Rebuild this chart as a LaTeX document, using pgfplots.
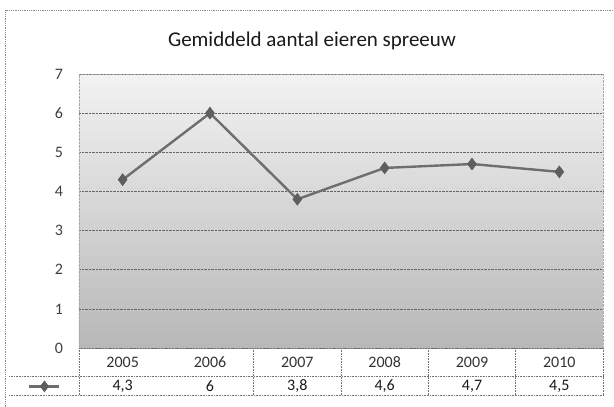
\documentclass[border=0pt]{standalone}
\usepackage{pgfplots}
\pgfplotsset{compat=1.18}
\usepackage{fontspec}
\setmainfont{Carlito}
\definecolor{lineg}{HTML}{6E6E6E}
\definecolor{markg}{HTML}{5E5E5E}
\definecolor{txt}{HTML}{1A1A1A}
\begin{document}
\begin{tikzpicture}[x=1pt,y=1pt]
\useasboundingbox (0,0) rectangle (614,407);
% outer frame (left and top edges)
\draw[black!45, densely dotted, line width=0.8pt] (5,-2) -- (5,397) -- (616,397);
\node[font=\fontsize{21}{24}\selectfont, text=txt] at (312,366) {Gemiddeld aantal eieren spreeuw};
\begin{axis}[
  at={(79pt,59pt)}, anchor=origin,
  scale only axis, width=524pt, height=274pt,
  xmin=0, xmax=6, ymin=0, ymax=7,
  clip=false,
  axis background/.style={top color=black!5, bottom color=black!28},
  axis line style={black!35, densely dotted},
  xtick=\empty,
  ytick={0,1,...,7},
  ymajorgrids,
  major grid style={black!60, densely dotted, line width=0.6pt},
  major tick length=0pt,
  yticklabel style={anchor=center, xshift=-20pt, font=\fontsize{16}{18}\selectfont, text=black!75},
  /pgf/number format/assume math mode=true,
  legend style={draw=none, fill=none, at={(axis cs:-0.39,-0.98)}, anchor=center, nodes={inner sep=0pt}},
  legend image code/.code={\draw[lineg, line width=2.4pt, mark=diamond*, mark size=5.5pt, mark options={fill=markg, draw=markg, line width=0.5pt}, mark repeat=2,mark phase=2] plot coordinates {(0pt,0pt)(15pt,0pt)(30pt,0pt)};},
]
\addplot[lineg, line width=2.4pt, mark=diamond*, mark size=6pt, mark options={fill=markg, draw=markg, line width=0.5pt}]
  coordinates {(0.5,4.3) (1.5,6) (2.5,3.8) (3.5,4.6) (4.5,4.7) (5.5,4.5)};
\addlegendentry{}
% data table
\draw[black!55, densely dotted, line width=0.6pt] (axis cs:0,0) -- (axis cs:6,0);
\draw[black!55, densely dotted, line width=0.6pt] (axis cs:-0.8,-0.715) -- (axis cs:6,-0.715);
\draw[black!55, densely dotted, line width=0.6pt] (axis cs:-0.8,-1.2) -- (axis cs:6,-1.2);
\draw[black!55, densely dotted, line width=0.6pt] (axis cs:0,0) -- (axis cs:0,-1.2);
\draw[black!55, densely dotted, line width=0.6pt] (axis cs:2,0) -- (axis cs:2,-1.2);
\draw[black!55, densely dotted, line width=0.6pt] (axis cs:3,0) -- (axis cs:3,-1.2);
\draw[black!55, densely dotted, line width=0.6pt] (axis cs:4,0) -- (axis cs:4,-1.2);
\draw[black!55, densely dotted, line width=0.6pt] (axis cs:5,0) -- (axis cs:5,-1.2);
\draw[black!55, densely dotted, line width=0.6pt] (axis cs:6,0) -- (axis cs:6,-1.2);
\node[font=\fontsize{16}{18}\selectfont, text=black!80] at (axis cs:0.5,-0.36) {2005};
\node[font=\fontsize{16}{18}\selectfont, text=black!80] at (axis cs:1.5,-0.36) {2006};
\node[font=\fontsize{16}{18}\selectfont, text=black!80] at (axis cs:2.5,-0.36) {2007};
\node[font=\fontsize{16}{18}\selectfont, text=black!80] at (axis cs:3.5,-0.36) {2008};
\node[font=\fontsize{16}{18}\selectfont, text=black!80] at (axis cs:4.5,-0.36) {2009};
\node[font=\fontsize{16}{18}\selectfont, text=black!80] at (axis cs:5.5,-0.36) {2010};
\node[font=\fontsize{16}{18}\selectfont, text=txt] at (axis cs:0.5,-0.98) {4,3};
\node[font=\fontsize{16}{18}\selectfont, text=txt] at (axis cs:1.5,-0.98) {6};
\node[font=\fontsize{16}{18}\selectfont, text=txt] at (axis cs:2.5,-0.98) {3,8};
\node[font=\fontsize{16}{18}\selectfont, text=txt] at (axis cs:3.5,-0.98) {4,6};
\node[font=\fontsize{16}{18}\selectfont, text=txt] at (axis cs:4.5,-0.98) {4,7};
\node[font=\fontsize{16}{18}\selectfont, text=txt] at (axis cs:5.5,-0.98) {4,5};
\end{axis}
\end{tikzpicture}
\end{document}
